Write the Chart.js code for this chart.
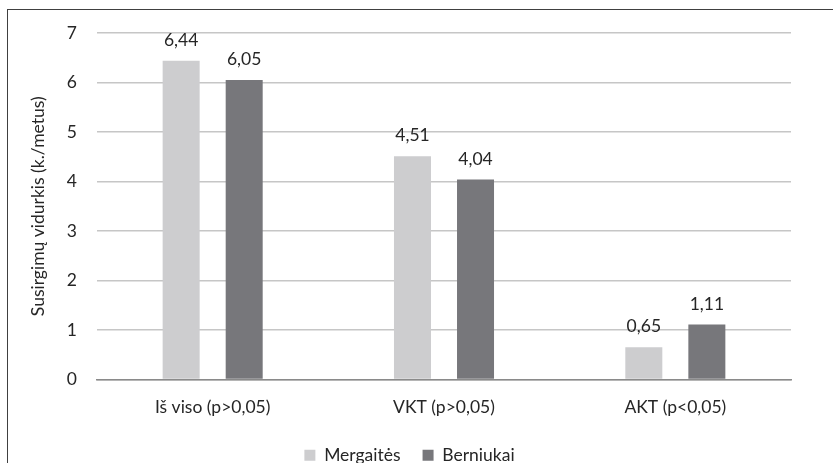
<!DOCTYPE html>
<html>
<head>
<meta charset="utf-8">
<script src="https://cdn.jsdelivr.net/npm/chart.js@4"></script>
<style>
  html, body { margin: 0; padding: 0; background: #fff; overflow: hidden; }
  #wrap { position: relative; width: 833px; height: 463px; }
  #frame {
    position: absolute; left: 7px; top: 9px; width: 900px; height: 500px;
    border: 1.5px solid #404040; box-sizing: border-box;
  }
  canvas { position: absolute; left: 0; top: 0; }
</style>
</head>
<body>
<div id="wrap">
  <div id="frame"></div>
  <canvas id="chart" width="833" height="463"></canvas>
</div>
<script>
const categories = ["Iš viso (p>0,05)", "VKT (p>0,05)", "AKT (p<0,05)"];
const mergaites = [6.44, 4.51, 0.65];
const berniukai = [6.05, 4.04, 1.11];
const yTicks = [0, 1, 2, 3, 4, 5, 6, 7];

const FONT = "Lato, 'Open Sans', sans-serif";
const FSIZE = 17.5;
const TEXT = "#262626";

// skaičiai virš stulpelių, su kableliu
const valueLabels = {
  id: "valueLabels",
  afterDatasetsDraw(chart) {
    const ctx = chart.ctx;
    ctx.save();
    ctx.font = FSIZE + "px " + FONT;
    ctx.fillStyle = TEXT;
    ctx.textAlign = "center";
    ctx.textBaseline = "alphabetic";
    chart.data.datasets.forEach((ds, i) => {
      chart.getDatasetMeta(i).data.forEach((bar, j) => {
        const txt = ds.data[j].toFixed(2).replace(".", ",");
        ctx.fillText(txt, bar.x, bar.y - 15);
      });
    });
    ctx.restore();
  },
};

new Chart(document.getElementById("chart"), {
  type: "bar",
  data: {
    labels: categories,
    datasets: [
      {
        label: "Mergaitės",
        data: mergaites,
        backgroundColor: "#cdcdcf",
        categoryPercentage: 0.545,
        barPercentage: 0.587,
      },
      {
        label: "Berniukai",
        data: berniukai,
        backgroundColor: "#77777b",
        categoryPercentage: 0.545,
        barPercentage: 0.587,
      },
    ],
  },
  options: {
    responsive: false,
    animation: false,
    layout: { padding: { left: 28, right: 42, top: 33, bottom: -11 } },
    plugins: {
      legend: {
        position: "bottom",
        labels: {
          boxWidth: 11,
          boxHeight: 11,
          padding: 22,
          color: TEXT,
          font: { family: FONT, size: FSIZE },
        },
      },
      tooltip: { enabled: false },
    },
    scales: {
      x: {
        afterFit: (s) => { s.height = s.height - 2; },
        grid: { display: false },
        border: { color: "#8a8a8a", width: 1.5 },
        ticks: { color: TEXT, font: { family: FONT, size: FSIZE }, padding: 9 },
      },
      y: {
        min: 0,
        max: 7,
        afterBuildTicks: (s) => { s.ticks = yTicks.map((v) => ({ value: v })); },
        afterFit: (s) => { s.width = 69; },
        grid: { color: "#c6c6c6", lineWidth: 1.5, drawTicks: false },
        border: { display: false },
        ticks: { color: TEXT, font: { family: FONT, size: FSIZE }, padding: 20 },
        title: {
          display: true,
          text: "Susirgimų vidurkis (k./metus)",
          color: TEXT,
          font: { family: FONT, size: FSIZE },
          padding: 0,
        },
      },
    },
  },
  plugins: [valueLabels],
});
</script>
</body>
</html>
